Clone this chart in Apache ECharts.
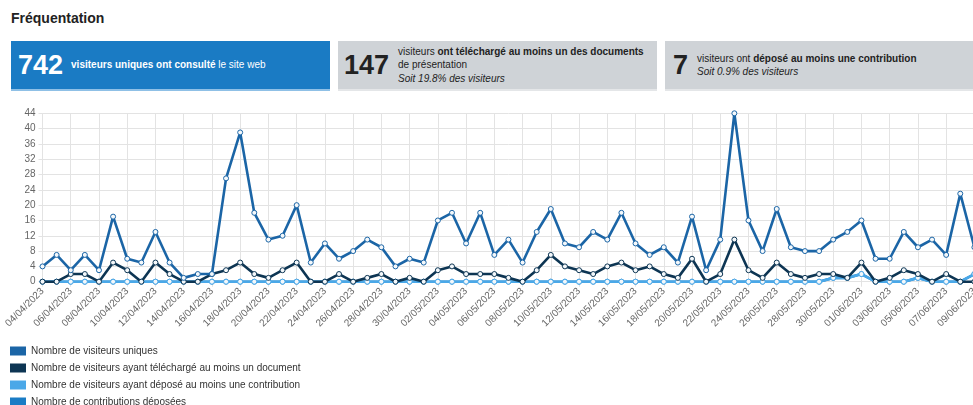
<!DOCTYPE html>
<html>
<head>
<meta charset="utf-8">
<script src="https://cdn.jsdelivr.net/npm/echarts@6/dist/echarts.min.js"></script>
<style>
html,body{margin:0;padding:0;background:#fff;}
body{width:973px;height:405px;overflow:hidden;position:relative;font-family:"Liberation Sans",Arial,Helvetica,sans-serif;color:#222;}
#title{position:absolute;left:11px;top:10px;font-size:14px;font-weight:bold;color:#222;}
.card{position:absolute;top:41px;height:50px;width:320px;display:flex;align-items:center;box-sizing:border-box;}
.c1{left:11px;width:319px;background:#1a7bc4;color:#fff;border-bottom:2px solid #8fc0e6;}
.c2{left:338px;width:319px;background:#cfd3d7;border-bottom:2px solid #e4e6e8;}
.c3{left:665px;width:330px;background:#cfd3d7;border-bottom:2px solid #e4e6e8;}
.num{font-size:27px;font-weight:bold;line-height:27px;}
.txt{font-size:10px;line-height:13.5px;}
.c1 .num{margin-left:7px;margin-right:8px;}
.c2 .num{margin-left:6px;margin-right:9px;}
.c3 .num{margin-left:8px;margin-right:9px;}
#chart{position:absolute;left:0;top:100px;width:1000px;height:340px;}
</style>
</head>
<body>
<div id="title">Fréquentation</div>
<div class="card c1"><span class="num">742</span><span class="txt"><b>visiteurs uniques ont consulté</b> le site web</span></div>
<div class="card c2"><span class="num">147</span><span class="txt">visiteurs <b>ont téléchargé au moins un des documents</b><br>de présentation<br><i>Soit 19.8% des visiteurs</i></span></div>
<div class="card c3"><span class="num">7</span><span class="txt">visiteurs ont <b>déposé au moins une contribution</b><br><i>Soit 0.9% des visiteurs</i></span></div>
<div id="chart"></div>
<script>
var categories = [
"04/04/2023","05/04/2023","06/04/2023","07/04/2023","08/04/2023","09/04/2023","10/04/2023","11/04/2023","12/04/2023","13/04/2023",
"14/04/2023","15/04/2023","16/04/2023","17/04/2023","18/04/2023","19/04/2023","20/04/2023","21/04/2023","22/04/2023","23/04/2023",
"24/04/2023","25/04/2023","26/04/2023","27/04/2023","28/04/2023","29/04/2023","30/04/2023",
"01/05/2023","02/05/2023","03/05/2023","04/05/2023","05/05/2023","06/05/2023","07/05/2023","08/05/2023","09/05/2023","10/05/2023",
"11/05/2023","12/05/2023","13/05/2023","14/05/2023","15/05/2023","16/05/2023","17/05/2023","18/05/2023","19/05/2023","20/05/2023",
"21/05/2023","22/05/2023","23/05/2023","24/05/2023","25/05/2023","26/05/2023","27/05/2023","28/05/2023","29/05/2023","30/05/2023","31/05/2023",
"01/06/2023","02/06/2023","03/06/2023","04/06/2023","05/06/2023","06/06/2023","07/06/2023","08/06/2023","09/06/2023"
];
var visiteursUniques = [
4,7,3,7,3,17,6,5,13,5,1,2,2,27,39,18,11,12,20,5,10,6,8,11,9,4,6,
5,16,18,10,18,7,11,5,13,19,10,9,13,11,18,10,7,9,5,17,3,11,44,16,8,19,9,8,8,11,13,
16,6,6,13,9,11,7,23,9
];
var visiteursTelechargement = [
0,0,2,2,0,5,3,0,5,2,0,0,2,3,5,2,1,3,5,0,0,2,0,1,2,0,1,
0,3,4,2,2,2,1,0,3,7,4,3,2,4,5,3,4,2,1,6,0,2,11,3,1,5,2,1,2,2,1,
5,0,1,3,2,0,2,0,0
];
var visiteursContribution = [
0,0,0,0,0,0,0,0,0,0,0,0,0,0,0,0,0,0,0,0,0,0,0,0,0,0,0,
0,0,0,0,0,0,0,0,0,0,0,0,0,0,0,0,0,0,0,0,0,0,0,0,0,0,0,0,0,1,1,
2,0,0,0,1,0,0,0,2
];
var contributionsDeposees = [
0,0,0,0,0,0,0,0,0,0,0,0,0,0,0,0,0,0,0,0,0,0,0,0,0,0,0,
0,0,0,0,0,0,0,0,0,0,0,0,0,0,0,0,0,0,0,0,0,0,0,0,0,0,0,0,0,1,1,
2,0,0,0,1,0,0,0,2
];
var seriesNames = [
"Nombre de visiteurs uniques",
"Nombre de visiteurs ayant téléchargé au moins un document",
"Nombre de visiteurs ayant déposé au moins une contribution",
"Nombre de contributions déposées"
];
var yTicks = {min:0, max:44, interval:4};

var colors = ["#1b65a6","#0d3553","#4aa8e8","#1a7cc5"];
var datas = [visiteursUniques, visiteursTelechargement, visiteursContribution, contributionsDeposees];
var zs = [8,7,6,5];

var chart = echarts.init(document.getElementById('chart'), null, {renderer:'canvas'});
var series = seriesNames.map(function(n,i){
  return {
    name:n, type:'line', data:datas[i], z:zs[i],
    symbol:'circle', symbolSize:5, showSymbol:true,
    lineStyle:{color:colors[i], width:2.6},
    itemStyle:{color:'#f4f8fb', borderColor:colors[i], borderWidth:1},
    emphasis:{disabled:true}
  };
});
chart.setOption({
  animation:false,
  textStyle:{fontFamily:'"Liberation Sans", Arial, Helvetica, sans-serif'},
  grid:{left:42.5, right:25.6, top:13.3, bottom:158.3, containLabel:false},
  legend:{
    orient:'vertical', left:10, top:245, padding:0, icon:'rect',
    itemWidth:16, itemHeight:9, itemGap:5, itemTextGap:4,
    textStyle:{fontSize:10, color:'#333', lineHeight:12},
    data:seriesNames.map(function(n,i){return {name:n, itemStyle:{color:colors[i], borderWidth:0}};})
  },
  xAxis:{
    type:'category', data:categories, boundaryGap:false,
    axisLine:{show:false},
    axisTick:{show:true, interval:1, length:5, lineStyle:{color:'#e3e3e3'}},
    axisLabel:{interval:1, rotate:45, fontSize:10, color:'#666', margin:8},
    splitLine:{show:true, interval:1, lineStyle:{color:'#e3e3e3', width:1}}
  },
  yAxis:{
    type:'value', min:yTicks.min, max:yTicks.max, interval:yTicks.interval,
    axisLine:{show:false},
    axisTick:{show:true, length:4, lineStyle:{color:'#e3e3e3'}},
    axisLabel:{fontSize:10, color:'#666', margin:7},
    splitLine:{show:true, lineStyle:{color:'#e3e3e3', width:1}}
  },
  series:series
});
</script>
</body>
</html>
